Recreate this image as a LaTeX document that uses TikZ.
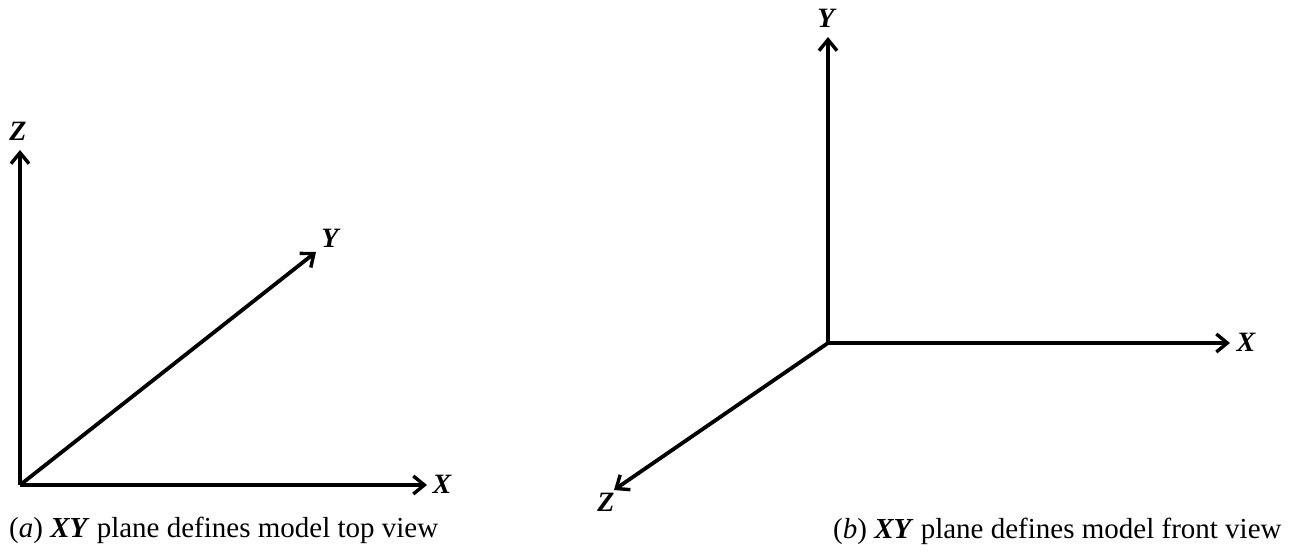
\documentclass[tikz,border=0pt]{standalone}
\usepackage{fontspec}
\setmainfont{Liberation Serif}
\usetikzlibrary{arrows.meta}
\begin{document}
\begin{tikzpicture}[x=1pt,y=-1pt,
  axis/.style={line width=3.8pt,-{Straight Barb[length=11pt,width=18pt,line width=3.4pt]}},
  lbl/.style={font=\fontsize{28}{30}\selectfont\bfseries\itshape,inner sep=0pt},
  captext/.style={font=\fontsize{29}{31}\selectfont,inner sep=0pt,anchor=west}]
\useasboundingbox (0,0) rectangle (1291,553);
% (a)
\coordinate (oa) at (20,485);
\coordinate (za) at (20,150);
\coordinate (ya) at (316,252);
\coordinate (xa) at (427,485);
\draw[axis] (oa) -- (za);
\draw[axis] (oa) -- (ya);
\draw[axis] (oa) -- (xa);
\node[lbl] (lza) at (18,131) {Z};
\node[lbl] (lya) at (330,238) {Y};
\node[lbl] (lxa) at (442,484) {X};
\node[captext] (capa) at (9,530) {(\textit{a}) \textbf{\textit{XY}} plane defines model top view};
% (b)
\coordinate (ob) at (828,343);
\coordinate (yb) at (828,37);
\coordinate (xb) at (1230,343);
\coordinate (zb) at (614,490);
\draw[axis] (ob) -- (yb);
\draw[axis] (ob) -- (xb);
\draw[axis] (ob) -- (zb);
\node[lbl] (lyb) at (826,18) {Y};
\node[lbl] (lxb) at (1246,342) {X};
\node[lbl] (lzb) at (606,502) {Z};
\node[captext] (capb) at (833,531) {(\textit{b}) \textbf{\textit{XY}} plane defines model front view};
\end{tikzpicture}
\end{document}
